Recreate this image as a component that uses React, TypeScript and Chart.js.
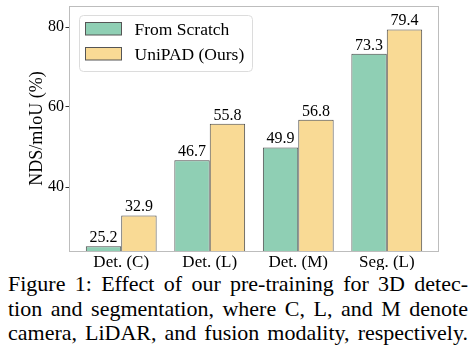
import React, { useEffect, useRef } from "react";
import { Chart, registerables } from "chart.js";

Chart.register(...registerables);

const categories = ["Det. (C)", "Det. (L)", "Det. (M)", "Seg. (L)"];
const seriesNames = ["From Scratch", "UniPAD (Ours)"];
const fromScratch = [25.2, 46.7, 49.9, 73.3];
const unipad = [32.9, 55.8, 56.8, 79.4];
const yTicks = [40, 60, 80];
const colors = ["#8fcfb4", "#f9da95"];
const captionLines = [
  "Figure 1: Effect of our pre-training for 3D detec-",
  "tion and segmentation, where C, L, and M denote",
  "camera, LiDAR, and fusion modality, respectively.",
];

const FONT = "'Liberation Serif', 'Times New Roman', serif";

const framePlugin = {
  id: "frame",
  beforeDatasetsDraw(chart: any) {
    const { ctx, chartArea: a } = chart;
    ctx.save();
    ctx.strokeStyle = "#bdbdbd";
    ctx.lineWidth = 1;
    ctx.strokeRect(a.left + 0.5, a.top + 0.5, a.right - a.left - 1, a.bottom - a.top);
    ctx.restore();
  },
};

const labelPlugin = {
  id: "barLabels",
  afterDatasetsDraw(chart: any) {
    const { ctx } = chart;
    ctx.save();
    ctx.font = `16px ${FONT}`;
    ctx.fillStyle = "#000";
    ctx.textAlign = "center";
    ctx.textBaseline = "bottom";
    chart.data.datasets.forEach((ds: any, i: number) => {
      const meta = chart.getDatasetMeta(i);
      meta.data.forEach((bar: any, j: number) => {
        ctx.fillText(ds.data[j].y.toFixed(1), bar.x, bar.y - 0.5);
      });
    });
    ctx.restore();
  },
};

const legendPlugin = {
  id: "boxLegend",
  afterDatasetsDraw(chart: any) {
    const { ctx, chartArea: a } = chart;
    const x0 = a.left + 10.5;
    const y0 = a.top + 9.5;
    ctx.save();
    ctx.beginPath();
    ctx.roundRect(x0, y0, 173, 56, 4);
    ctx.fillStyle = "rgba(255,255,255,0.85)";
    ctx.fill();
    ctx.strokeStyle = "#dcdcdc";
    ctx.lineWidth = 1;
    ctx.stroke();
    chart.data.datasets.forEach((ds: any, i: number) => {
      const py = y0 + 7 + i * 25;
      ctx.fillStyle = ds.backgroundColor;
      ctx.fillRect(x0 + 6, py, 36, 12.5);
      ctx.strokeStyle = "#555";
      ctx.strokeRect(x0 + 6, py, 36, 12.5);
      ctx.fillStyle = "#000";
      ctx.font = `17.5px ${FONT}`;
      ctx.textAlign = "left";
      ctx.textBaseline = "alphabetic";
      ctx.fillText(ds.label, x0 + 55, py + 12.8);
    });
    ctx.restore();
  },
};

function BarChart() {
  const ref = useRef<HTMLCanvasElement>(null);
  useEffect(() => {
    if (!ref.current) return;
    const chart = new Chart(ref.current, {
      type: "bar",
      data: {
        datasets: [
          {
            label: seriesNames[0],
            data: fromScratch.map((v, i) => ({ x: i, y: v })),
            backgroundColor: colors[0],
            borderColor: "#4a4a4a",
            borderWidth: 1,
            borderSkipped: false,
          },
          {
            label: seriesNames[1],
            data: unipad.map((v, i) => ({ x: i, y: v })),
            backgroundColor: colors[1],
            borderColor: "#4a4a4a",
            borderWidth: 1,
            borderSkipped: false,
          },
        ],
      },
      options: {
        responsive: false,
        animation: false,
        devicePixelRatio: 1,
        categoryPercentage: 0.8,
        barPercentage: 1,
        layout: { padding: { top: 6, right: 37, left: 0, bottom: 0 } },
        plugins: { legend: { display: false }, tooltip: { enabled: false } },
        scales: {
          x: {
            type: "linear",
            min: -0.59,
            max: 3.59,
            offset: false,
            grid: { display: false, drawTicks: false },
            border: { display: false },
            afterBuildTicks: (axis: any) => {
              axis.ticks = categories.map((_, i) => ({ value: i }));
            },
            afterFit: (axis: any) => {
              axis.height = 19;
              axis.paddingLeft = 0;
              axis.paddingRight = 0;
            },
            ticks: {
              autoSkip: false,
              maxRotation: 0,
              padding: 1.5,
              color: "#000",
              font: { family: FONT, size: 17 },
              callback: (v: any) => categories[Math.round(v)] ?? "",
            },
          },
          y: {
            min: 24,
            max: 85.25,
            grid: { drawOnChartArea: false, drawTicks: true, tickLength: 3.5, color: "#333" },
            border: { display: false },
            afterBuildTicks: (axis: any) => {
              axis.ticks = yTicks.map((v) => ({ value: v }));
            },
            afterFit: (axis: any) => {
              axis.width = 69;
              axis.paddingTop = 0;
              axis.paddingBottom = 0;
            },
            ticks: {
              padding: 1.5,
              color: "#000",
              font: { family: FONT, size: 16 },
            },
            title: {
              display: true,
              text: "NDS/mIoU (%)",
              color: "#000",
              font: { family: FONT, size: 18 },
              padding: { top: 26.5, bottom: 0 },
            },
          },
        },
      },
      plugins: [framePlugin, labelPlugin, legendPlugin],
    } as any);
    return () => chart.destroy();
  }, []);
  return <canvas ref={ref} width={476} height={270} style={{ display: "block" }} />;
}

export default function App() {
  return (
    <div
      style={{
        position: "absolute",
        left: 0,
        top: 0,
        width: 476,
        height: 356,
        overflow: "hidden",
        background: "#fff",
      }}
    >
      <BarChart />
      <div
        style={{
          position: "absolute",
          left: 8,
          top: 272,
          width: 460,
          fontFamily: FONT,
          fontSize: 22,
          lineHeight: "24.7px",
          color: "#000",
        }}
      >
        {captionLines.map((t, i) => (
          <div key={i} style={{ textAlign: "justify", textAlignLast: "justify", whiteSpace: "nowrap" }}>
            {t}
          </div>
        ))}
      </div>
    </div>
  );
}
